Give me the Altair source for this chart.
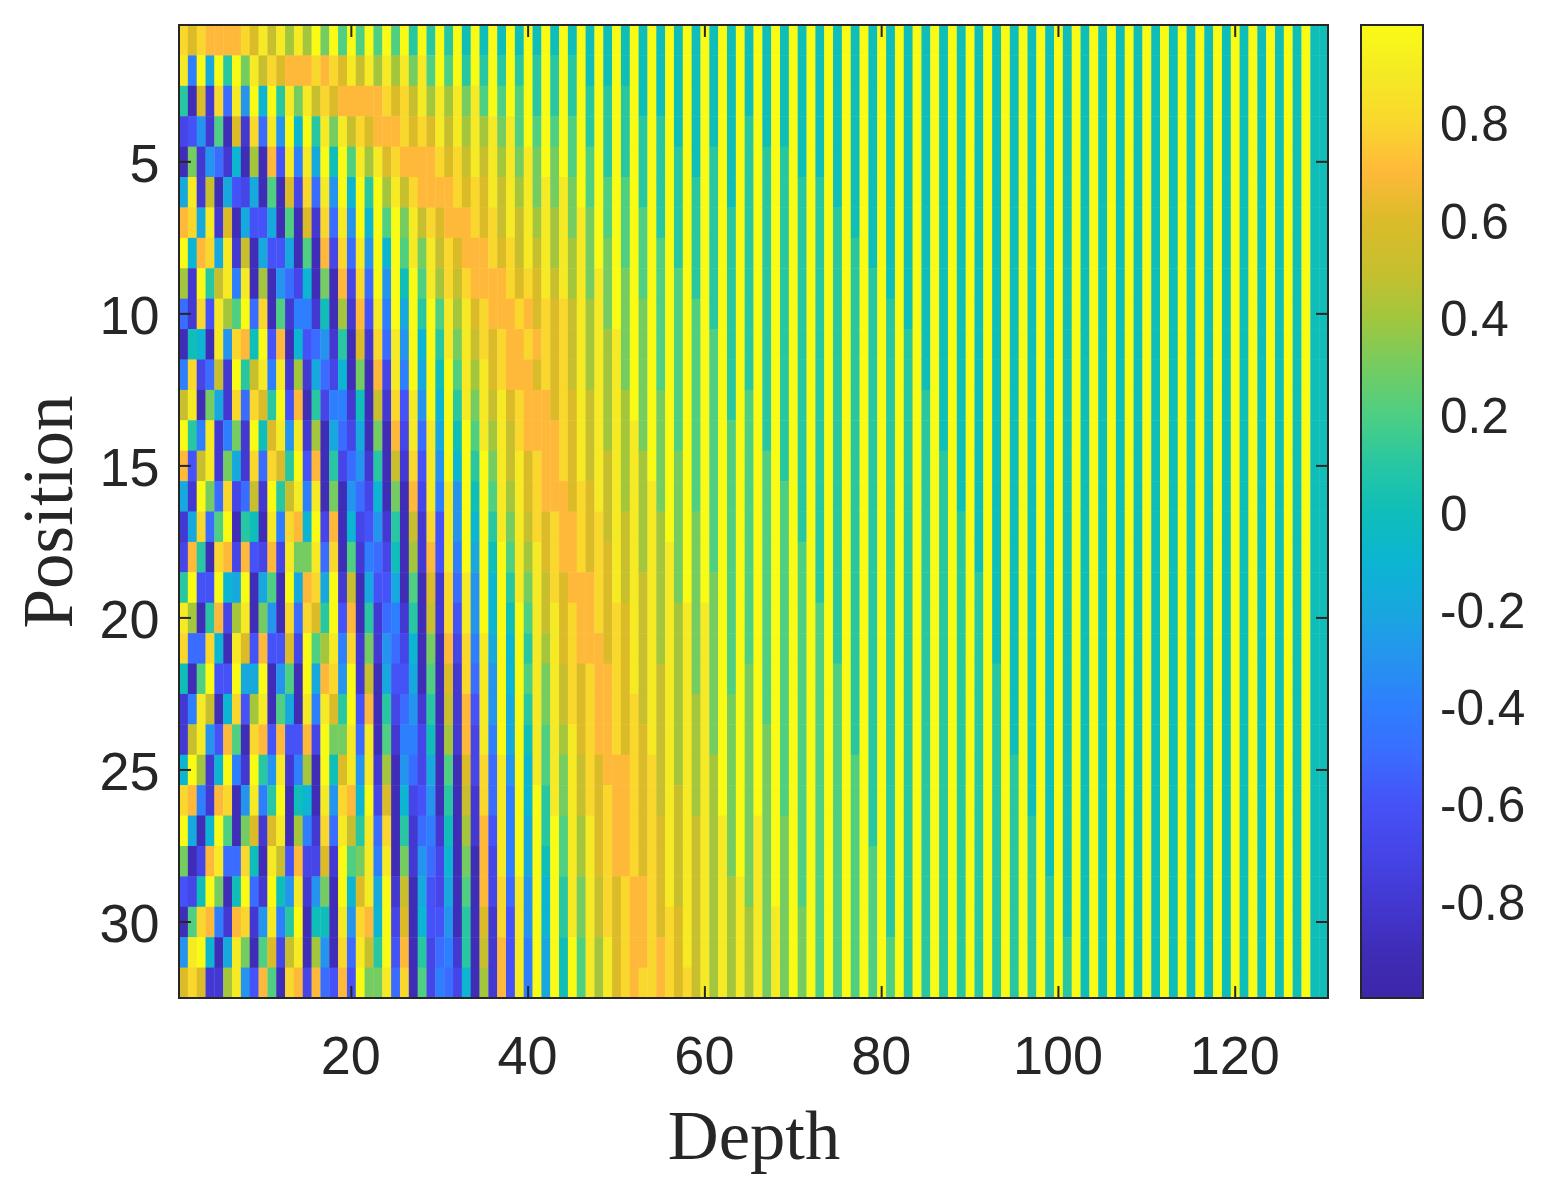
import altair as alt
import pandas as pd

# Colour levels: a = -1.0, k = 0.0, u = +1.0 in steps of 0.1
LEVELS = "abcdefghijklmnopqrstu"
LEVEL_COLORS = ["#3e26a8", "#3f2db8", "#4338d2", "#4545e8", "#4552f8", "#3a6cff", "#2e7ffe",
                "#2594ee", "#17a8de", "#0cb5d2", "#0fbeb9", "#28c7a2", "#4ecf82", "#75cc60",
                "#a3c63c", "#c8bf2e", "#dcbb29", "#ffb93a", "#fad72d", "#f5ea24", "#f9fb15"]

# Rows 1..32, depths 1..22
ROWS_A = [
    "sqsrrrrsqtptotounumumu", "tguiuluntpsqrrrsrsqtpt", "lbqcsfthujultntpsqrrrr", "dehcmbqcsfthujultntpsq",
    "bnchfcjbobretgtiukumto", "itcpbiedibmbqdsfthujul", "rsitcqbieeibmbqcsfthuj", "ujrsitcpbieeibmbrdsfth",
    "oculptgtbobhfdjbnbrdsf", "fcsetomufsbmcggckbocre", "bkjbthsrkuerbjefhclbqc", "gsdfpculptgtcocifdjbnb",
    "ptbnicsfsqluerbldggckb", "ulgtcgncukqthtcobifdib", "reptcnicsfsqluerbldfhc", "icunfsdfpculptgtbnbhfd",
    "cisfmublkbtgsrjudrbjde", "drlbsrdredrdtnntfsbmcg", "lueeujiubimbuirsiucpbi", "toblrdotbnhbsfsqluerbl",
    "sffsjbtqereeqdumotgscn", "kbmueeuiiubhmbuirshucp", "cgtpbjseotbmibtgtqluer", "cpthermbsrereerdunntft",
    "juocjugculhtcgobukqtht", "srgcrsbhtglubkjbthsrju", "uibjumbnqcqtbogcsftplt", "nbdrtffskbtperddqcumnt",
    "edkunbkufcukhtchnbujqt", "bmsrgcrschtglubkkbthsr", "htujbitnbmqdptbohbsftp", "qsqccothermbsrdrfereun",
]
# Rows 1..32, depths 23..42
ROWS_B = [
    "mumulululukukukukuku", "ototntmumulululululu", "rsqsptototntmumumulu", "rrrsqsqtptototntmumu",
    "tqsrrrrsqsptptotntnu", "uotpsrrrrsqsqtptotnt", "umuntpsqrrrsqsptptot", "ujumtntpsqrrrsqsptpt",
    "uhukumtospsrrrrsqsqt", "tguiulumtotqsrrrsrqs", "sfthujultntpsqsrrsrs", "rdtguiukumtotqsrrrqs",
    "pcsethujultntptqsrrr", "nbrdtftiukumtotpsrrr", "lbpcsethujuluntptqsr", "jbnbrdtgthukumtotqsr",
    "hclbpcsethujultntpsq", "fdkbocretguiukumtotq", "eeibmbqcsfthujultntp", "cfgclbpcsethujukumtp",
    "chfdjbnbrdsgtiujulto", "bieeibmbqcsfthujumtn", "bldfhclbpcrethuiultn", "bmcggdkbocrdtguiuktm",
    "cobhfdibmbqdsfthujtm", "dqbjdehblbpcsftgujul", "fsblcfgckbocretguiul", "gtbnchfdjbnbrdtguiuk",
    "iucpbiedibmbrdsfthuj", "judqbjeehblbqcsethuj", "luerbldfgclbpcretgui", "ntfsbmdgfdjbocretgui",
]
# Depths 43..64, each string runs down the rows 1..32
COLS_C = [
    "kllmnnoopqq" "qqrrrsssttt" "ttttuuuuuu", "uuuuuttttss" "ssssrrrqqqp" "ponnmmllkk",
    "kllmmnnoopp" "pqqqqrrrsss" "stttttttuu", "uuuuuuttttt" "ttttsssrrrq" "qqppoonnmm",
    "kkllmmnnnoo" "opppqqqrrrs" "sssstttttt", "uuuuuuuuttt" "tttttssssrr" "rrqqqqppoo",
    "kklllmmnnno" "ooopppqqqqr" "rrrssssstt", "uuuuuuuuuut" "ttttttttsss" "ssrrrrqqqq",
    "kklllmmmnnn" "noooopppqqq" "qqrrrrssss", "uuuuuuuuuuu" "uuttttttttt" "ssssssrrrr",
    "kkklllmmmnn" "nnnoooopppp" "pqqqqqrrrs", "uuuuuuuuuuu" "uuuuttttttt" "ttssssssss",
    "kkkllllmmmm" "mnnnnooooop" "ppppqqqqrr", "uuuuuuuuuuu" "uuuuuuttttt" "tttttttsss",
    "kkkkllllmmm" "mmmnnnnnooo" "oooppppqqq", "uuuuuuuuuuu" "uuuuuuuuttt" "ttttttttts",
    "kkkkkllllmm" "mmmmmnnnnnn" "oooopppppp", "uuuuuuuuuuu" "uuuuuuuuttt" "tttttttttt",
    "kkkkllllllm" "mmmmmmmnnnn" "nnoooooooo", "uuuuuuuuuuu" "uuuuuuuuuuu" "uuuutttttt",
    "kkkkkklllll" "llmmmmmmmmm" "nnnnnnoooo", "uuuuuuuuuuu" "uuuuuuuuuuu" "uuuuuutttt",
]
# Depths 65..130 as runs down the rows: letter and number of rows
COLS_D = [
    "k3 l9 m9 n8 o3", "u26 t6", "k4 l10 m9 n9", "u29 t3", "k4 l11 m11 n6", "u32", "k5 l12 m12 n3", "u32",
    "k5 l14 m13", "u32", "k6 l15 m11", "u32", "k7 l17 m8", "u32", "k8 l19 m5", "u32",
    "k9 l21 m2", "u32", "k10 l22", "u32", "k12 l20", "u32", "k14 l18", "u32",
    "k16 l16", "u32", "k18 l14", "u32", "k21 l11", "u32", "k24 l8", "u32",
    "k26 l6", "u32", "k28 l4", "u32", "k30 l2", "u32", "k32", "u32",
    "k32", "u32", "k32", "u32", "k32", "u32", "k32", "u32",
    "k32", "u32", "k32", "u32", "k32", "u32", "k32", "u32",
    "k32", "u32", "k32", "u32", "k32", "u32", "k32", "u32",
    "k32", "k32",
]

X_TICKS = [20, 40, 60, 80, 100, 120]
Y_TICKS = [5, 10, 15, 20, 25, 30]
BAR_TICKS = [-0.8, -0.6, -0.4, -0.2, 0, 0.2, 0.4, 0.6, 0.8]
BAR_LABELS = ["-0.8", "-0.6", "-0.4", "-0.2", "0", "0.2", "0.4", "0.6", "0.8"]

INK = "#262626"
W, H = 1149, 973
BAR_X = 1182
BAR_W = 62
TICK = 12
TICK_FONT = "Liberation Sans"
TITLE_FONT = "Liberation Serif"
SEAM_X = 0.04   # cells overlap their neighbours a little, so no seams show between them
SEAM_Y = 0.015


def unruns(text):
    return "".join(p[0] * int(p[1:]) for p in text.split())


columns = [[] for _ in range(130)]
for a, b in zip(ROWS_A, ROWS_B):
    for i, ch in enumerate(a + b):
        columns[i].append(ch)
for i, col in enumerate(COLS_C):
    columns[42 + i] = list(col)
for i, col in enumerate(COLS_D):
    columns[64 + i] = list(unruns(col))

records = []
for c, col in enumerate(columns, start=1):
    for r, ch in enumerate(col, start=1):
        records.append({"x0": c - 0.5, "x1": min(c + 0.5 + SEAM_X, 130.5),
                        "y0": r - 0.5, "y1": min(r + 0.5 + SEAM_Y, 32.5),
                        "v": round(-1 + 0.1 * LEVELS.index(ch), 1)})
df = pd.DataFrame(records)

x_scale = alt.Scale(domain=[0.5, 130.5], nice=False, zero=False)
y_scale = alt.Scale(domain=[0.5, 32.5], nice=False, zero=False, reverse=True)
bar_scale = alt.Scale(domain=[-1, 1], nice=False, zero=False)
color_scale = alt.Scale(domain=[round(-1 + 0.1 * i, 1) for i in range(21)], range=LEVEL_COLORS)

heat = alt.Chart(df).mark_rect(strokeWidth=0).encode(
    x=alt.X("x0:Q", scale=x_scale, axis=alt.Axis(
        values=X_TICKS, ticks=False, domain=False, grid=False, labelFont=TICK_FONT, labelFontSize=54,
        labelColor=INK, labelPadding=32, labelOffset=-1, title="Depth", titleFont=TITLE_FONT, titleFontSize=70.5,
        titleFontWeight="normal", titleColor=INK, titlePadding=18)),
    x2="x1:Q",
    y=alt.Y("y0:Q", scale=y_scale, axis=alt.Axis(
        values=Y_TICKS, ticks=False, domain=False, grid=False, labelFont=TICK_FONT, labelFontSize=54,
        labelColor=INK, labelPadding=20, labelOffset=4, title="Position", titleFont=TITLE_FONT,
        titleFontSize=71, titleFontWeight="normal", titleColor=INK, titlePadding=12)),
    y2="y1:Q",
    color=alt.Color("v:Q", scale=color_scale, legend=alt.Legend(
        title=None, orient="none", legendX=BAR_X, legendY=0, direction="vertical",
        gradientLength=H, gradientThickness=BAR_W, gradientStrokeColor=INK, gradientStrokeWidth=2,
        values=BAR_TICKS, labelExpr="''", labelOpacity=0)),
)

x_df = pd.DataFrame({"t": X_TICKS})
y_df = pd.DataFrame({"t": Y_TICKS})
bar_df = pd.DataFrame({"t": BAR_TICKS, "label": BAR_LABELS})
tick_mark = alt.Chart(x_df).mark_rule(color=INK, strokeWidth=2)

x_bottom = tick_mark.encode(x=alt.X("t:Q", scale=x_scale, axis=None), y=alt.value(H - TICK), y2=alt.value(H))
x_top = tick_mark.encode(x=alt.X("t:Q", scale=x_scale, axis=None), y=alt.value(0), y2=alt.value(TICK))
y_left = alt.Chart(y_df).mark_rule(color=INK, strokeWidth=2).encode(
    y=alt.Y("t:Q", scale=y_scale, axis=None), x=alt.value(0), x2=alt.value(TICK))
y_right = alt.Chart(y_df).mark_rule(color=INK, strokeWidth=2).encode(
    y=alt.Y("t:Q", scale=y_scale, axis=None), x=alt.value(W - TICK), x2=alt.value(W))
bar_ticks = alt.Chart(bar_df).mark_rule(color=INK, strokeWidth=2).encode(
    y=alt.Y("t:Q", scale=bar_scale, axis=None),
    x=alt.value(BAR_X + BAR_W - TICK), x2=alt.value(BAR_X + BAR_W))
bar_text = alt.Chart(bar_df).mark_text(
    align="left", baseline="middle", font=TICK_FONT, fontSize=49.5, color=INK, dy=4
).encode(
    y=alt.Y("t:Q", scale=bar_scale, axis=None),
    x=alt.value(BAR_X + BAR_W + 17),
    text="label:N",
)
frame = alt.Chart(x_df).mark_rect(filled=False, stroke=INK, strokeWidth=2).encode(
    x=alt.value(0), x2=alt.value(W), y=alt.value(0), y2=alt.value(H))

chart = alt.layer(heat, x_bottom, x_top, y_left, y_right, bar_ticks, bar_text, frame).resolve_scale(
    y="independent"
).resolve_axis(x="independent").properties(
    width=W, height=H,
    autosize=alt.AutoSizeParams(type="none"),
    padding={"left": 171, "top": 17, "right": 200, "bottom": 180},
    background="white",
).configure_view(stroke=None)

chart.save("out.html", embed_options={"renderer": "svg", "actions": False})
